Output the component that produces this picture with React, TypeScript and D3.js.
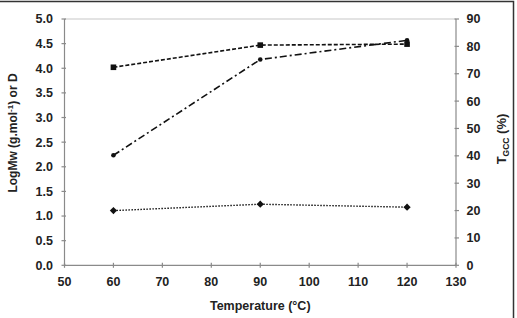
import React from "react";
import * as d3 from "d3";

const temperatures = [60, 90, 120];
const logMw = [4.02, 4.47, 4.49];
const dispersity = [1.11, 1.24, 1.18];
const tGcc = [40.2, 75.2, 82.2];

const xTicks = [50, 60, 70, 80, 90, 100, 110, 120, 130];
const leftTicks = [0, 0.5, 1, 1.5, 2, 2.5, 3, 3.5, 4, 4.5, 5];
const rightTicks = [0, 10, 20, 30, 40, 50, 60, 70, 80, 90];

const W = 517;
const H = 318;
const plot = { left: 64.5, right: 456, top: 19, bottom: 265.3 };
const font = "Arial, 'Liberation Sans', sans-serif";
const axisColor = "#8a8a8a";

export default function App() {
  const x = d3.scaleLinear().domain([50, 130]).range([plot.left, plot.right]);
  const yL = d3.scaleLinear().domain([0, 5]).range([plot.bottom, plot.top]);
  const yR = d3.scaleLinear().domain([0, 90]).range([plot.bottom, plot.top]);

  const lineL = d3
    .line<number>()
    .x((_, i) => x(temperatures[i]))
    .y((d) => yL(d));
  const lineR = d3
    .line<number>()
    .x((_, i) => x(temperatures[i]))
    .y((d) => yR(d));

  return (
    <svg
      width={W}
      height={H}
      style={{ position: "absolute", left: 0, top: 0, background: "#fff" }}
    >
      {/* outer frame */}
      <rect x={-10} y={1.5} width={523.5} height={340} fill="none" stroke="#333" strokeWidth={1.5} />

      {/* plot area frame */}
      <line x1={plot.left} x2={plot.right} y1={plot.top} y2={plot.top} stroke="#c8c8c8" strokeWidth={1.2} />
      <line x1={plot.left} x2={plot.left} y1={plot.top} y2={plot.bottom} stroke={axisColor} strokeWidth={1.2} />
      <line x1={plot.right} x2={plot.right} y1={plot.top} y2={plot.bottom} stroke={axisColor} strokeWidth={1.2} />
      <line x1={plot.left} x2={plot.right} y1={plot.bottom} y2={plot.bottom} stroke={axisColor} strokeWidth={1.2} />

      {/* x axis */}
      {xTicks.map((t) => (
        <g key={`x${t}`}>
          <line x1={x(t)} x2={x(t)} y1={plot.bottom - 2.5} y2={plot.bottom + 2.5} stroke={axisColor} strokeWidth={1.2} />
          <text
            x={x(t)}
            y={plot.bottom + 21}
            textAnchor="middle"
            fontFamily={font}
            fontWeight="bold"
            fontSize={12.5}
            fill="#222"
          >
            {t}
          </text>
        </g>
      ))}

      {/* left axis */}
      {leftTicks.map((t) => (
        <g key={`l${t}`}>
          <line x1={plot.left - 3} x2={plot.left + 1.5} y1={yL(t)} y2={yL(t)} stroke={axisColor} strokeWidth={1.2} />
          <text
            x={53}
            y={yL(t) + 4.4}
            textAnchor="end"
            fontFamily={font}
            fontWeight="bold"
            fontSize={12.5}
            fill="#222"
          >
            {t.toFixed(1)}
          </text>
        </g>
      ))}

      {/* right axis */}
      {rightTicks.map((t) => (
        <g key={`r${t}`}>
          <line x1={plot.right - 1.5} x2={plot.right + 3} y1={yR(t)} y2={yR(t)} stroke={axisColor} strokeWidth={1.2} />
          <text
            x={466.5}
            y={yR(t) + 4.4}
            textAnchor="start"
            fontFamily={font}
            fontWeight="bold"
            fontSize={12.5}
            fill="#222"
          >
            {t}
          </text>
        </g>
      ))}

      {/* axis titles */}
      <text
        x={(plot.left + plot.right) / 2}
        y={310}
        textAnchor="middle"
        fontFamily={font}
        fontWeight="bold"
        fontSize={12.5}
        fill="#222"
      >
        Temperature (°C)
      </text>
      <text
        transform={`translate(17, 133) rotate(-90)`}
        textAnchor="middle"
        fontFamily={font}
        fontWeight="bold"
        fontSize={12}
        fill="#222"
      >
        LogMw (g.mol
        <tspan fontSize={8} dy={-4}>-1</tspan>
        <tspan dy={4}>) or D</tspan>
      </text>
      <text
        transform={`translate(506, 139) rotate(-90)`}
        textAnchor="middle"
        fontFamily={font}
        fontWeight="bold"
        fontSize={13}
        fill="#222"
      >
        T
        <tspan fontSize={8.5} dy={3}>GCC</tspan>
        <tspan dy={-3}> (%)</tspan>
      </text>

      {/* LogMw: dashed with squares */}
      <path d={lineL(logMw) ?? ""} fill="none" stroke="#111" strokeWidth={1.6} strokeDasharray="4 2" />
      {logMw.map((v, i) => (
        <rect key={`s${i}`} x={x(temperatures[i]) - 2.8} y={yL(v) - 2.8} width={5.6} height={5.6} fill="#111" />
      ))}

      {/* TGCC: dash-dot with small dots */}
      <path d={lineR(tGcc) ?? ""} fill="none" stroke="#111" strokeWidth={1.6} strokeDasharray="7 3 2 3" />
      {tGcc.map((v, i) => (
        <circle key={`c${i}`} cx={x(temperatures[i])} cy={yR(v)} r={2.3} fill="#111" />
      ))}

      {/* Dispersity: dotted with diamonds */}
      <path d={lineL(dispersity) ?? ""} fill="none" stroke="#111" strokeWidth={1.4} strokeDasharray="1.5 1.5" />
      {dispersity.map((v, i) => {
        const cx = x(temperatures[i]);
        const cy = yL(v);
        const r = 3.6;
        return (
          <path
            key={`d${i}`}
            d={`M${cx},${cy - r}L${cx + r},${cy}L${cx},${cy + r}L${cx - r},${cy}Z`}
            fill="#111"
          />
        );
      })}
    </svg>
  );
}
